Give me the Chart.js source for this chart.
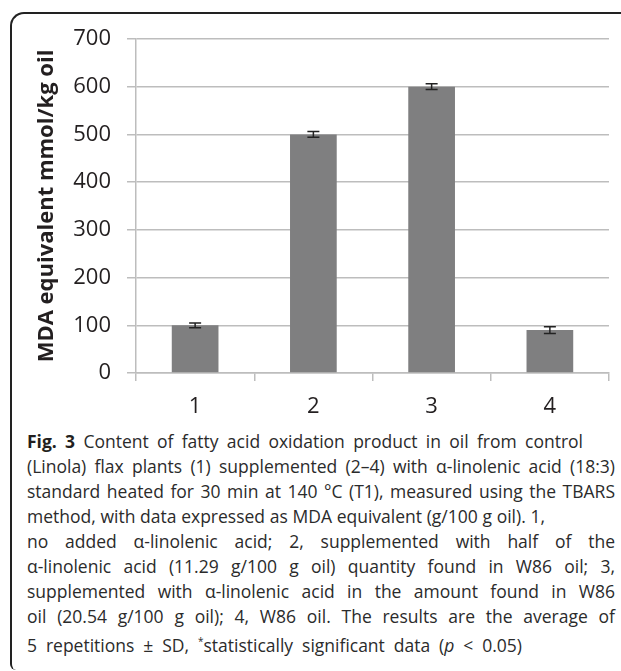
<!DOCTYPE html>
<html>
  <head>
    <meta charset="utf-8">
    <title>Fig. 3</title>
  </head>
  <style media="screen">
    html, body {
      margin: 0;
      padding: 0;
      background: #fff;
    }
    #frame {
      position: absolute;
      left: 10px;
      top: 12px;
      width: 700px;
      height: 656px;
      border-top: 2px solid #222;
      border-left: 2px solid #222;
      border-top-left-radius: 14px;
      border-bottom-left-radius: 6px;
    }
    #box {
      position: absolute;
      left: 0;
      top: 0;
      width: 621px;
      height: 425px;
    }
    #caption {
      position: absolute;
      left: 27px;
      top: 429px;
      width: 588px;
      font-family: "Open Sans", sans-serif;
      font-size: 17.5px;
      line-height: 25px;
      color: #2b2b2b;
    }
    #caption div {
      white-space: nowrap;
      text-align: justify;
      text-align-last: justify;
    }
    #caption b { font-weight: bold; color: #231f20; }
  </style>
  <body>
    <div id="frame"></div>
    <div id="box"><canvas id="grap"></canvas></div>
    <div id="caption">
      <div style="width:556px"><b>Fig. 3</b> Content of fatty acid oxidation product in oil from control</div>
      <div>(Linola) flax plants (1) supplemented (2–4) with α-linolenic acid (18:3)</div>
      <div>standard heated for 30 min at 140 °C (T1), measured using the TBARS</div>
      <div style="width:518px">method, with data expressed as MDA equivalent (g/100 g oil). 1,</div>
      <div>no added α-linolenic acid; 2, supplemented with half of the</div>
      <div>α-linolenic acid (11.29 g/100 g oil) quantity found in W86 oil; 3,</div>
      <div>supplemented with α-linolenic acid in the amount found in W86</div>
      <div>oil (20.54 g/100 g oil); 4, W86 oil. The results are the average of</div>
      <div style="width:495px">5 repetitions ± SD, <sup style="font-size:10px">*</sup>statistically significant data (<i>p</i> &lt; 0.05)</div>
    </div>
    <script src="https://cdn.jsdelivr.net/npm/chart.js@4/dist/chart.umd.min.js"></script>
    <script type="text/javascript">
      let grupos = ["1", "2", "3", "4"];
      let mda = [100, 500, 600, 90];
      let desvio = [5, 6, 6, 7];
      let yTicks = [0, 100, 200, 300, 400, 500, 600, 700];

      // barras de erro (± SD) desenhadas pela escala do grafico
      let errorBars = {
        id: 'errorBars',
        afterDatasetsDraw(chart) {
          let ctx = chart.ctx;
          let y = chart.scales.y;
          let meta = chart.getDatasetMeta(0);
          ctx.save();
          ctx.strokeStyle = "#222";
          ctx.lineWidth = 1.5;
          meta.data.forEach((bar, i) => {
            let top = y.getPixelForValue(mda[i] + desvio[i]);
            let bot = y.getPixelForValue(mda[i] - desvio[i]);
            ctx.beginPath();
            ctx.moveTo(bar.x, top); ctx.lineTo(bar.x, bot);
            ctx.moveTo(bar.x - 6, top); ctx.lineTo(bar.x + 6, top);
            ctx.moveTo(bar.x - 6, bot); ctx.lineTo(bar.x + 6, bot);
            ctx.stroke();
          });
          ctx.restore();
        }
      };

      let font = { family: "'Open Sans', sans-serif", size: 22 };

      var grafico = new Chart(document.querySelector("#grap"), {
        type: 'bar',
        data: {
          labels: grupos,
          datasets: [{
            data: mda,
            backgroundColor: "#7f7f80",
            barPercentage: 0.395,
            categoryPercentage: 1
          }]
        },
        options: {
          responsive: true,
          maintainAspectRatio: false,
          animation: false,
          layout: { padding: { top: 39, right: 12, left: 0, bottom: 0 } },
          plugins: {
            legend: { display: false },
            tooltip: { enabled: false }
          },
          scales: {
            y: {
              min: 0,
              max: 700,
              afterBuildTicks: s => { s.ticks = yTicks.map(v => ({ value: v })); },
              afterFit: s => { s.width = 136; },
              border: { color: "#bdbdbd", width: 1.5 },
              grid: { color: "#bdbdbd", lineWidth: 1.5, tickLength: 9 },
              ticks: { color: "#231f20", font: font, padding: 16 },
              title: {
                display: true,
                text: "MDA equivalent mmol/kg oil",
                color: "#231f20",
                font: { family: "'Open Sans', sans-serif", size: 22, weight: 'bold' },
                padding: { top: 34, bottom: 0 }
              }
            },
            x: {
              afterFit: s => { s.height = 52; },
              border: { color: "#bdbdbd", width: 1.5 },
              grid: { drawOnChartArea: false, color: "#bdbdbd", lineWidth: 1.5, tickLength: 8 },
              ticks: { color: "#231f20", font: font, padding: 13 }
            }
          }
        },
        plugins: [errorBars]
      });
    </script>
  </body>
</html>
